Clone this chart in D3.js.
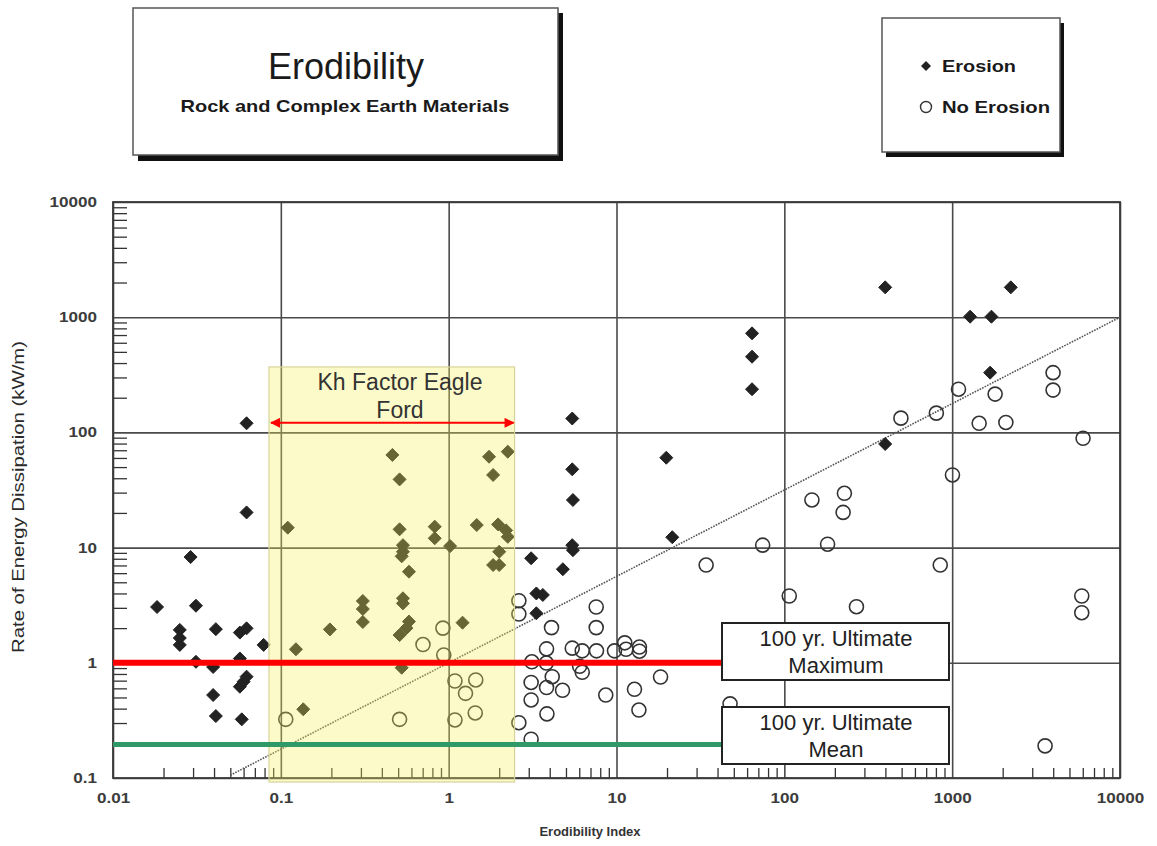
<!DOCTYPE html>
<html><head><meta charset="utf-8">
<script src="https://cdn.jsdelivr.net/npm/d3@7/dist/d3.min.js"></script>
<style>body{margin:0;background:#fff;}svg{display:block;font-family:"Liberation Sans",Arial,sans-serif;}</style>
</head><body>
<svg id="c" width="1157" height="846"></svg>
<script>
// ---- data ----
const xTickValues = [0.01, 0.1, 1, 10, 100, 1000, 10000];
const xTickLabels = ["0.01", "0.1", "1", "10", "100", "1000", "10000"];
const yTickValues = [0.1, 1, 10, 100, 1000, 10000];
const yTickLabels = ["0.1", "1", "10", "100", "1000", "10000"];

const erosion = [
  [0.0183,3.05],[0.025,1.93],[0.025,1.64],[0.025,1.43],[0.029,8.28],[0.0312,3.13],[0.0312,1.02],
  [0.041,1.96],[0.0395,0.92],[0.0395,0.525],[0.041,0.345],[0.057,1.83],[0.0625,1.99],[0.057,1.09],
  [0.0625,0.758],[0.06,0.686],[0.057,0.62],[0.0585,0.323],[0.079,1.43],[0.0625,120],[0.0625,20.2],
  [0.11,14.9],[0.123,1.31],[0.136,0.395],[0.196,1.95],[0.308,3.44],[0.308,2.93],[0.308,2.26],
  [0.462,63.7],[0.51,39.1],[0.51,14.4],[0.534,10.5],[0.534,9.2],[0.525,8.4],[0.58,6.18],
  [0.534,3.63],[0.534,3.28],[0.58,2.28],[0.56,2.0],[0.51,1.74],[0.525,0.906],
  [0.826,15.2],[0.826,12.05],[1.02,10.3],[1.21,2.23],[1.74,61.5],[2.25,68],[1.84,42.7],
  [1.47,15.7],[1.97,15.9],[2.2,14.1],[2.25,12.4],[2.0,9.2],[1.84,7.06],[2.0,7.06],
  [5.5,25.9],[5.45,10.5],[5.5,9.5],[3.1,8.08],[4.79,6.49],[3.33,4.0],[3.64,3.88],[3.33,2.69],
  [5.45,132],[5.45,47.8],[19.8,60.3],[21.5,12.3],[64.2,724],[64.2,454],[64.2,237],
  [399,1816],[2235,1816],[1279,1010],[1714,1010],[1683,330],[399,79.3]
];
const noErosion = [
  [0.107,0.323],[0.51,0.323],[0.703,1.44],[0.924,2.0],[0.935,1.17],[1.09,0.695],[1.45,0.71],
  [1.26,0.543],[1.44,0.367],[1.09,0.319],[2.62,3.46],[2.62,2.65],[2.62,0.302],[3.1,0.217],
  [7.57,3.05],[7.57,2.02],[4.1,2.02],[3.83,1.32],[5.45,1.34],[6.25,1.27],[7.6,1.27],[9.73,1.27],
  [11.2,1.49],[11.4,1.31],[13.7,1.37],[13.7,1.26],[3.13,1.02],[3.82,0.995],[6.03,0.933],
  [6.25,0.828],[4.14,0.757],[3.1,0.675],[3.83,0.61],[4.77,0.577],[3.1,0.476],[3.85,0.36],
  [8.63,0.525],[12.8,0.589],[13.6,0.389],[18.3,0.753],[74.3,10.5],[34.2,7.06],[107,3.8],
  [3992,330],[3992,233],[1091,237],[1803,215],[805,147],[495,133],[1448,120],[2089,122],
  [6025,88.9],[1004,42.7],[146,25.9],[228,29.6],[224,20.2],[181,10.7],[849,7.06],[269,3.07],
  [5918,3.8],[5918,2.72],[3578,0.19],[47.5,0.44]
];
const trendExponent = 0.75;          // y = x^0.75
const trendXRange = [0.05, 10000];
const khRange = [0.085, 2.47];
const khTop = 370;
const khArrowY = 121;
const ultimateMax = 1.0;
const ultimateMean = 0.195;
const refLineEndX = 55;

// ---- scales ----
const svg = d3.select("#c");
const L = 113, R = 1120, T = 202, B = 778;
const x = d3.scaleLog().domain([0.01, 10000]).range([L, R]);
const y = d3.scaleLog().domain([0.1, 10000]).range([B, T]);

const minorX = [], minorY = [];
for (let e = -2; e < 4; e++) for (let k = 2; k <= 9; k++) minorX.push(k * Math.pow(10, e));
for (let e = -1; e < 4; e++) for (let k = 2; k <= 9; k++) minorY.push(k * Math.pow(10, e));

// grid (major)
const grid = svg.append("g");
grid.append("g").attr("transform", `translate(0,${B})`)
  .call(d3.axisBottom(x).tickValues(xTickValues).tickSize(-(B - T)).tickFormat(""))
  .call(g => g.select(".domain").remove())
  .call(g => g.selectAll("line").attr("stroke", "#4a4a4a").attr("stroke-width", 1.6));
grid.append("g").attr("transform", `translate(${L},0)`)
  .call(d3.axisLeft(y).tickValues(yTickValues).tickSize(-(R - L)).tickFormat(""))
  .call(g => g.select(".domain").remove())
  .call(g => g.selectAll("line").attr("stroke", "#4a4a4a").attr("stroke-width", 1.6));

// minor ticks
svg.append("g").attr("transform", `translate(0,${B})`)
  .call(d3.axisBottom(x).tickValues(minorX).tickSize(-10).tickFormat(""))
  .call(g => g.select(".domain").remove())
  .call(g => g.selectAll("line").attr("stroke", "#333").attr("stroke-width", 1.3));
svg.append("g").attr("transform", `translate(${L},0)`)
  .call(d3.axisLeft(y).tickValues(minorY).tickSize(-14).tickFormat(""))
  .call(g => g.select(".domain").remove())
  .call(g => g.selectAll("line").attr("stroke", "#333").attr("stroke-width", 1.3));

// frame
svg.append("rect").attr("x", L).attr("y", T).attr("width", R - L).attr("height", B - T)
  .attr("fill", "none").attr("stroke", "#3a3a3a").attr("stroke-width", 1.8);

// tick labels (slightly wide glyphs like the scanned original)
function widen(sel, f) {
  sel.each(function () {
    const w = this.getComputedTextLength();
    d3.select(this).attr("textLength", w * f).attr("lengthAdjust", "spacingAndGlyphs");
  });
}
svg.append("g").attr("transform", `translate(0,${B})`)
  .call(d3.axisBottom(x).tickValues(xTickValues).tickSize(0).tickPadding(15)
    .tickFormat((d, i) => xTickLabels[i]))
  .call(g => g.select(".domain").remove())
  .call(g => g.selectAll("text").attr("font-size", 14).attr("font-weight", "bold")
    .attr("fill", "#3c3c3c").attr("font-family", "Liberation Sans, Arial, sans-serif"))
  .call(g => widen(g.selectAll("text"), 1.22));
svg.append("g").attr("transform", `translate(${L},0)`)
  .call(d3.axisLeft(y).tickValues(yTickValues).tickSize(0).tickPadding(16)
    .tickFormat((d, i) => yTickLabels[i]))
  .call(g => g.select(".domain").remove())
  .call(g => g.selectAll("text").attr("font-size", 14).attr("font-weight", "bold")
    .attr("fill", "#3c3c3c").attr("font-family", "Liberation Sans, Arial, sans-serif"))
  .call(g => widen(g.selectAll("text"), 1.22));

// axis titles
svg.append("text").attr("x", 590).attr("y", 836).attr("text-anchor", "middle")
  .attr("font-size", 13).attr("font-weight", "bold").attr("fill", "#333")
  .text("Erodibility Index");
svg.append("text").attr("transform", "translate(24,497) rotate(-90)").attr("text-anchor", "middle")
  .attr("font-size", 16).attr("fill", "#2a2a2a")
  .attr("textLength", 312).attr("lengthAdjust", "spacingAndGlyphs")
  .text("Rate of Energy Dissipation (kW/m)");

// trend line
const trendPts = d3.range(0, 61).map(i => {
  const lx = Math.log10(trendXRange[0]) + i / 60 * (Math.log10(trendXRange[1]) - Math.log10(trendXRange[0]));
  const xv = Math.pow(10, lx);
  return [xv, Math.pow(xv, trendExponent)];
});
svg.append("path").datum(trendPts)
  .attr("d", d3.line().x(d => x(d[0])).y(d => y(d[1])))
  .attr("fill", "none").attr("stroke", "#555").attr("stroke-width", 1.6).attr("stroke-dasharray", "1.6,1.2");

// points
const diamond = "M0,-6.5L6.5,0L0,6.5L-6.5,0Z";
svg.append("g").selectAll("path").data(erosion).join("path")
  .attr("d", diamond).attr("transform", d => `translate(${x(d[0])},${y(d[1])})`)
  .attr("fill", "#222").attr("stroke", "#222").attr("stroke-width", 1);
svg.append("g").selectAll("circle").data(noErosion).join("circle")
  .attr("cx", d => x(d[0])).attr("cy", d => y(d[1])).attr("r", 7)
  .attr("fill", "none").attr("stroke", "#333").attr("stroke-width", 1.6);

// yellow Kh box
svg.append("rect").attr("x", x(khRange[0])).attr("y", y(khTop))
  .attr("width", x(khRange[1]) - x(khRange[0])).attr("height", B + 4 - y(khTop))
  .attr("fill", "rgb(246,240,90)").attr("fill-opacity", 0.33)
  .attr("stroke", "#d6d39a").attr("stroke-width", 1.2);

// reference lines
svg.append("line").attr("x1", x(0.01)).attr("x2", x(refLineEndX))
  .attr("y1", y(ultimateMax)).attr("y2", y(ultimateMax))
  .attr("stroke", "#ff0000").attr("stroke-width", 6);
svg.append("line").attr("x1", x(0.01)).attr("x2", x(refLineEndX))
  .attr("y1", y(ultimateMean)).attr("y2", y(ultimateMean))
  .attr("stroke", "#2f9a68").attr("stroke-width", 5);

// arrow
const defs = svg.append("defs");
defs.append("marker").attr("id", "ah").attr("viewBox", "0 0 10 10").attr("refX", 9).attr("refY", 5)
  .attr("markerWidth", 6).attr("markerHeight", 5).attr("orient", "auto-start-reverse")
  .attr("markerUnits", "strokeWidth")
  .append("path").attr("d", "M0,0L10,5L0,10Z").attr("fill", "#ff0000");
svg.append("line").attr("x1", x(khRange[0]) + 2).attr("x2", x(khRange[1]) - 1)
  .attr("y1", y(khArrowY)).attr("y2", y(khArrowY))
  .attr("stroke", "#ff0000").attr("stroke-width", 2)
  .attr("marker-start", "url(#ah)").attr("marker-end", "url(#ah)");
const khText = svg.append("text").attr("text-anchor", "middle").attr("font-size", 23).attr("fill", "#333");
khText.append("tspan").attr("x", 400).attr("y", 390).text("Kh Factor Eagle");
khText.append("tspan").attr("x", 400).attr("y", 418).text("Ford");

// ref labels
function labelBox(y0, l1, l2) {
  svg.append("rect").attr("x", 722).attr("y", y0).attr("width", 227).attr("height", 57)
    .attr("fill", "#fff").attr("stroke", "#222").attr("stroke-width", 2);
  const t = svg.append("text").attr("text-anchor", "middle").attr("font-size", 22).attr("fill", "#222");
  t.append("tspan").attr("x", 836).attr("y", y0 + 23).text(l1);
  t.append("tspan").attr("x", 836).attr("y", y0 + 50).text(l2);
}
labelBox(623, "100 yr. Ultimate", "Maximum");
labelBox(707, "100 yr. Ultimate", "Mean");

// title box
svg.append("rect").attr("x", 138).attr("y", 13).attr("width", 425).attr("height", 148).attr("fill", "#111");
svg.append("rect").attr("x", 133).attr("y", 8).attr("width", 425).attr("height", 147)
  .attr("fill", "#fff").attr("stroke", "#555").attr("stroke-width", 1.5);
svg.append("text").attr("x", 346).attr("y", 79).attr("text-anchor", "middle")
  .attr("font-size", 36).attr("fill", "#1a1a1a").text("Erodibility");
svg.append("text").attr("x", 345).attr("y", 112).attr("text-anchor", "middle")
  .attr("font-size", 17).attr("fill", "#1a1a1a").attr("font-weight", "bold")
  .attr("textLength", 329).attr("lengthAdjust", "spacingAndGlyphs")
  .text("Rock and Complex Earth Materials");

// legend box
svg.append("rect").attr("x", 886).attr("y", 23).attr("width", 178).attr("height", 134).attr("fill", "#111");
svg.append("rect").attr("x", 882).attr("y", 18).attr("width", 178).attr("height", 134)
  .attr("fill", "#fff").attr("stroke", "#555").attr("stroke-width", 1.5);
svg.append("path").attr("d", "M0,-5L5,0L0,5L-5,0Z").attr("transform", "translate(926,66)").attr("fill", "#222");
svg.append("circle").attr("cx", 926).attr("cy", 107).attr("r", 5.5).attr("fill", "none")
  .attr("stroke", "#333").attr("stroke-width", 1.4);
svg.append("text").attr("x", 942).attr("y", 72).attr("font-size", 17).attr("fill", "#1a1a1a").attr("font-weight", "bold")
  .attr("textLength", 74).attr("lengthAdjust", "spacingAndGlyphs").text("Erosion");
svg.append("text").attr("x", 942).attr("y", 113).attr("font-size", 17).attr("fill", "#1a1a1a").attr("font-weight", "bold")
  .attr("textLength", 108).attr("lengthAdjust", "spacingAndGlyphs").text("No Erosion");
</script>
</body></html>
